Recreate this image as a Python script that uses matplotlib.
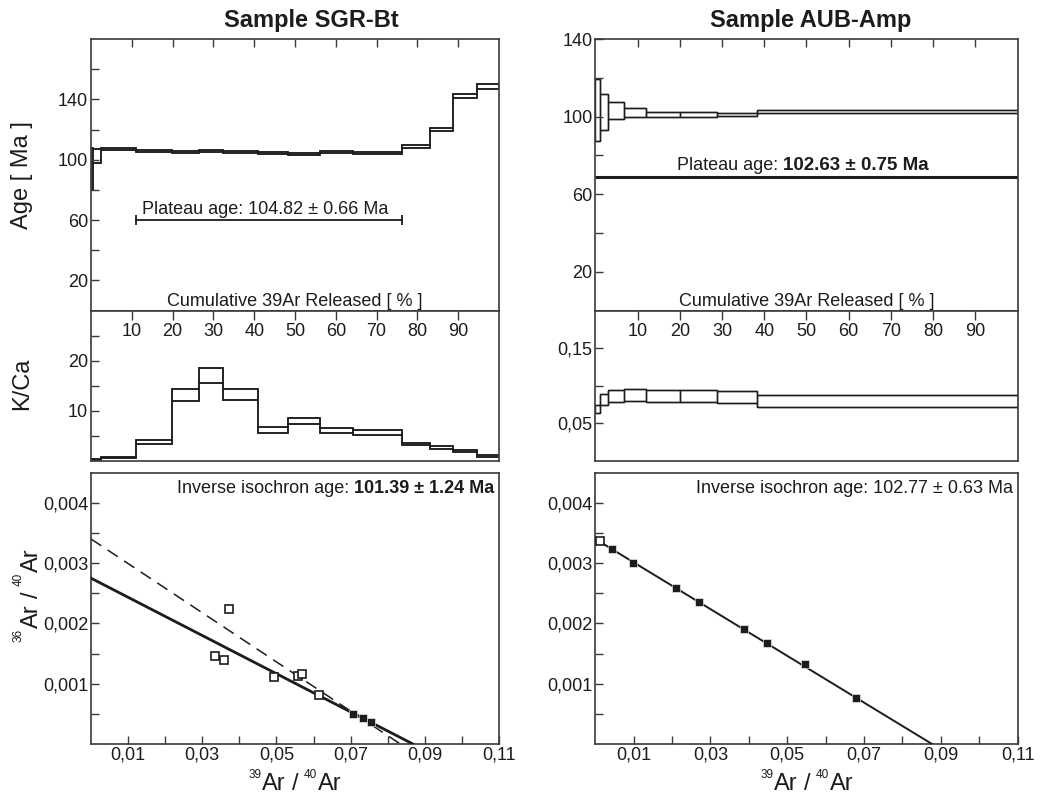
import matplotlib
matplotlib.use("Agg")
import matplotlib.pyplot as plt
import numpy as np
from matplotlib.ticker import FixedLocator, FixedFormatter

plt.rcParams['font.family'] = ['Liberation Sans', 'DejaVu Sans']

# ---------------- data ----------------
titles = ["Sample SGR-Bt", "Sample AUB-Amp"]

# SGR-Bt step heating (cumulative 39Ar % edges)
sgr_steps = [0, 0.4, 2.45, 11.0, 19.85, 26.4, 32.4, 41.0, 48.4, 56.1, 64.3, 76.1, 83.1, 88.8, 94.5, 100]
sgr_age_hi = [108.0, 107.4, 107.7, 106.2, 105.5, 106.4, 105.5, 104.8, 104.2, 105.9, 105.2, 109.6, 121.0, 143.8, 149.9]
sgr_age_lo = [80.0, 97.6, 106.3, 105.0, 104.3, 105.2, 104.3, 103.6, 103.0, 104.7, 104.0, 108.0, 119.0, 140.7, 146.6]
sgr_kca_hi = [0.3, 0.3, 0.8, 4.1, 14.4, 18.5, 14.4, 6.7, 8.5, 6.5, 6.1, 3.6, 2.9, 2.1, 1.1]
sgr_kca_lo = [0.0, 0.1, 0.5, 3.4, 11.9, 15.6, 12.1, 5.6, 7.4, 5.6, 5.2, 3.1, 2.4, 1.7, 0.8]
sgr_plateau = [11.0, 76.1, 60.0]          # start %, end %, drawn level
sgr_plateau_text = "Plateau age: 104.82 ± 0.66 Ma"

# AUB-Amp step heating
aub_steps = [0, 1.2, 3.0, 6.8, 12.0, 20.0, 28.9, 38.3, 100]
aub_age_hi = [119.4, 111.5, 107.3, 104.6, 102.6, 102.3, 102.1, 103.2]
aub_age_lo = [87.6, 93.1, 98.8, 99.6, 99.8, 99.6, 100.5, 102.0]
aub_kca_hi = [0.075, 0.0887, 0.0944, 0.0962, 0.0944, 0.0944, 0.0935, 0.0873]
aub_kca_lo = [0.0633, 0.0744, 0.078, 0.0797, 0.078, 0.078, 0.0775, 0.0722]
aub_plateau = [0, 100, 69.0]
aub_plateau_label = "Plateau age: "
aub_plateau_value = "102.63 ± 0.75 Ma"

# inverse isochrons
sgr_open_x = [0.0372, 0.0334, 0.0358, 0.0493, 0.0557, 0.0568, 0.0614]
sgr_open_y = [0.00224, 0.00146, 0.00140, 0.00111, 0.00112, 0.00116, 0.00081]
sgr_fill_x = [0.0707, 0.0732, 0.0754]
sgr_fill_y = [0.000503, 0.000426, 0.00037]
sgr_fit = [0.00275, 0.0868]     # y-intercept, x-intercept (solid)
sgr_alt = [0.0034, 0.0834]      # y-intercept, x-intercept (dashed)
sgr_iso_label = "Inverse isochron age: "
sgr_iso_value = "101.39 ± 1.24 Ma"

aub_open_x = [0.0013]
aub_open_y = [0.00337]
aub_fill_x = [0.0044, 0.0099, 0.0210, 0.0269, 0.0386, 0.0448, 0.0545, 0.0678]
aub_fill_y = [0.00323, 0.00301, 0.00258, 0.00235, 0.00191, 0.00168, 0.00132, 0.00076]
aub_fit = [0.0034, 0.0877, 0.002]   # y-intercept, x-intercept, start x
aub_iso_text = "Inverse isochron age: 102.77 ± 0.63 Ma"

# axis-label pieces (isotope mass numbers as superscripts)
iso_x_label = [("39", True), ("Ar", False), ("/", False), ("40", True), ("Ar", False)]
iso_y_label = [("36", True), ("Ar", False), ("/", False), ("40", True), ("Ar", False)]

# ticks
pct_ticks = [10, 20, 30, 40, 50, 60, 70, 80, 90]
pct_labels = ["10", "20", "30", "40", "50", "60", "70", "80", "90"]
sgr_age_ticks = [20, 40, 60, 80, 100, 120, 140, 160]
sgr_age_labels = ["20", "", "60", "", "100", "", "140", ""]
aub_age_ticks = [20, 40, 60, 80, 100, 120, 140]
aub_age_labels = ["20", "", "60", "", "100", "", "140"]
sgr_kca_ticks = [5, 10, 15, 20, 25]
sgr_kca_labels = ["", "10", "", "20", ""]
aub_kca_ticks = [0.05, 0.10, 0.15]
aub_kca_labels = ["0,05", "", "0,15"]
iso_x_ticks = [0.01, 0.02, 0.03, 0.04, 0.05, 0.06, 0.07, 0.08, 0.09, 0.10, 0.11]
iso_x_labels = ["0,01", "", "0,03", "", "0,05", "", "0,07", "", "0,09", "", "0,11"]
iso_y_ticks = [0.0005, 0.001, 0.0015, 0.002, 0.0025, 0.003, 0.0035, 0.004]
iso_y_labels = ["", "0,001", "", "0,002", "", "0,003", "", "0,004"]

# ---------------- style ----------------
INK = "#1c1c1c"
SPINE = "#3a3a3a"
FS = 13
LFS = 17
SUPFS = 8.5
GAP = 6.0       # px between words

fig = plt.figure(figsize=(10.51, 7.96), dpi=100)
W, H = 1051, 796

L, LW = 0.0866, 0.3882
R, RW = 0.5664, 0.4019
AGE_B, AGE_H = 0.6099, 0.3410
KCA_B, KCA_H = 0.4209, 0.1890
ISO_B, ISO_H = 0.0653, 0.3409


def style(ax):
    for s in ax.spines.values():
        s.set_color(SPINE)
        s.set_linewidth(1.2)
    ax.tick_params(direction='in', length=5.5, width=1.0, color=SPINE,
                   labelsize=FS, labelcolor=INK, pad=2)


def spectrum(ax, edges, lo, hi, lw=1.0):
    edges = np.asarray(edges, float)
    lo = np.asarray(lo, float)
    hi = np.asarray(hi, float)
    ax.bar(edges[:-1], hi - lo, width=np.diff(edges), bottom=lo, align='edge',
           fill=False, edgecolor=INK, linewidth=lw)
    ax.stairs(hi, edges, baseline=None, color=INK, linewidth=lw)
    ax.stairs(lo, edges, baseline=None, color=INK, linewidth=lw)


def yticks(ax, ticks, labels):
    ax.yaxis.set_major_locator(FixedLocator(ticks))
    ax.yaxis.set_major_formatter(FixedFormatter(labels))


def xticks(ax, ticks, labels):
    ax.xaxis.set_major_locator(FixedLocator(ticks))
    ax.xaxis.set_major_formatter(FixedFormatter(labels))


def compose(cx, cy, parts, rotation=0, rise_pt=8.4):
    """Write a label made of pieces; small raised pieces are superscripts.
    cx, cy: pixel position from top-left; horizontal: centre x & baseline y,
    vertical: baseline x & centre y."""
    r = fig.canvas.get_renderer()
    specs = []
    for i, (s, sup) in enumerate(parts):
        size = SUPFS if sup else LFS
        t = fig.text(0, 0, s, fontsize=size)
        w = t.get_window_extent(r).width
        t.remove()
        gap = 0.5 if sup else (0 if i + 1 == len(parts) else GAP)
        specs.append((s, size, rise_pt * fig.dpi / 72 if sup else 0.0, w, gap))
    total = sum(sp[3] + sp[4] for sp in specs)
    pos = -total / 2
    for s, size, rise, w, gap in specs:
        if rotation == 0:
            x, y = cx + pos, (H - cy) + rise
        else:
            x, y = cx - rise, (H - cy) + pos
        fig.text(x / W, y / H, s, fontsize=size, color=INK, rotation=rotation,
                 rotation_mode='anchor', ha='left', va='baseline')
        pos += w + gap


# ---------- age spectra ----------
ax1 = fig.add_axes([L, AGE_B, LW, AGE_H])
ax2 = fig.add_axes([R, AGE_B, RW, AGE_H])
for ax in (ax1, ax2):
    style(ax)
    ax.set_xlim(0, 100)
    xticks(ax, pct_ticks, [""] * len(pct_ticks))
    ax.tick_params(axis='x', top=True, bottom=False, labelbottom=False, labeltop=False)
    ax.text(50, 0.018, "Cumulative 39Ar Released [ % ]", transform=ax.get_xaxis_transform(),
            ha='center', va='baseline', fontsize=FS, color=INK)

ax1.set_ylim(0, 180)
yticks(ax1, sgr_age_ticks, sgr_age_labels)
spectrum(ax1, sgr_steps, sgr_age_lo, sgr_age_hi, lw=1.1)
ax1.plot([sgr_plateau[0], sgr_plateau[1]], [sgr_plateau[2], sgr_plateau[2]],
         color=INK, lw=1.3, marker='|', markersize=7, markeredgewidth=1.3)
ax1.text((sgr_plateau[0] + sgr_plateau[1]) / 2 - 0.8, 64, sgr_plateau_text,
         ha='center', va='baseline', fontsize=FS, color=INK)
ax1.set_ylabel("Age [ Ma ]", fontsize=LFS, color=INK)
ax1.yaxis.set_label_coords(-0.142, 0.5)

ax2.set_ylim(0, 140)
yticks(ax2, aub_age_ticks, aub_age_labels)
spectrum(ax2, aub_steps, aub_age_lo, aub_age_hi, lw=1.0)
ax2.plot([aub_plateau[0], aub_plateau[1]], [aub_plateau[2], aub_plateau[2]],
         color=INK, lw=2.2, solid_capstyle='butt')
t1 = ax2.text(19.4, 72.5, aub_plateau_label, ha='left', va='baseline',
              fontsize=FS, color=INK)
ax2.annotate(aub_plateau_value, xy=(1, 0), xycoords=t1, ha='left', va='bottom',
             fontsize=13.5, fontweight='bold', color=INK)

fig.text(311 / W, 1 - 27 / H, titles[0], ha='center', va='baseline',
         fontsize=LFS, fontweight='bold', color=INK)
fig.text(811 / W, 1 - 27 / H, titles[1], ha='center', va='baseline',
         fontsize=LFS, fontweight='bold', color=INK)

# ---------- K/Ca ----------
ax3 = fig.add_axes([L, KCA_B, LW, KCA_H])
ax4 = fig.add_axes([R, KCA_B, RW, KCA_H])
for ax in (ax3, ax4):
    style(ax)
    ax.set_xlim(0, 100)
    xticks(ax, pct_ticks, pct_labels)
    ax.tick_params(axis='x', top=True, bottom=False, labeltop=True, labelbottom=False,
                   pad=-21.5, length=6.5)

ax3.set_ylim(0, 30)
yticks(ax3, sgr_kca_ticks, sgr_kca_labels)
spectrum(ax3, sgr_steps, sgr_kca_lo, sgr_kca_hi, lw=1.1)
ax3.set_ylabel("K/Ca", fontsize=LFS, color=INK)
ax3.yaxis.set_label_coords(-0.142, 0.51)

ax4.set_ylim(0, 0.2)
yticks(ax4, aub_kca_ticks, aub_kca_labels)
spectrum(ax4, aub_steps, aub_kca_lo, aub_kca_hi, lw=1.0)

# ---------- inverse isochrons ----------
ax5 = fig.add_axes([L, ISO_B, LW, ISO_H])
ax6 = fig.add_axes([R, ISO_B, RW, ISO_H])
for ax in (ax5, ax6):
    style(ax)
    ax.set_xlim(0, 0.11)
    ax.set_ylim(0, 0.0045)
    xticks(ax, iso_x_ticks, iso_x_labels)
    yticks(ax, iso_y_ticks, iso_y_labels)

# SGR lines
xs = np.array([0.0, sgr_alt[1]])
ax5.plot(xs, sgr_alt[0] * (1 - xs / sgr_alt[1]), color=INK, lw=1.1,
         linestyle=(0, (8, 5)), zorder=2)
xs = np.array([0.0, sgr_fit[1]])
ax5.plot(xs, sgr_fit[0] * (1 - xs / sgr_fit[1]), color=INK, lw=2.0, zorder=3)
ax5.plot(sgr_open_x, sgr_open_y, linestyle='none', marker='s', markersize=6.3,
         markerfacecolor='white', markeredgecolor=INK, markeredgewidth=1.2, zorder=4)
ax5.plot(sgr_fill_x, sgr_fill_y, linestyle='none', marker='s', markersize=5.6,
         markerfacecolor=INK, markeredgecolor='white', markeredgewidth=0.4, zorder=4)
tb = ax5.text(0.988, 0.924, sgr_iso_value, transform=ax5.transAxes, ha='right',
              va='baseline', fontsize=FS, fontweight='bold', color=INK)
ax5.annotate(sgr_iso_label, xy=(0, 0), xycoords=tb, ha='right', va='bottom',
             fontsize=FS, color=INK)

# AUB line
xs = np.array([aub_fit[2], aub_fit[1]])
ax6.plot(xs, aub_fit[0] * (1 - xs / aub_fit[1]), color=INK, lw=1.4, zorder=3)
ax6.plot(aub_open_x, aub_open_y, linestyle='none', marker='s', markersize=6.3,
         markerfacecolor='white', markeredgecolor=INK, markeredgewidth=1.2, zorder=4)
ax6.plot(aub_fill_x, aub_fill_y, linestyle='none', marker='s', markersize=5.6,
         markerfacecolor=INK, markeredgecolor='white', markeredgewidth=0.4, zorder=4)
ax6.text(0.989, 0.924, aub_iso_text, transform=ax6.transAxes, ha='right',
         va='baseline', fontsize=FS, color=INK)

# isotope-ratio axis labels
compose(295, 790, iso_x_label, rise_pt=8.4)
compose(807, 790, iso_x_label, rise_pt=8.4)
compose(37.5, 595, iso_y_label, rotation=90, rise_pt=11.5)

fig.savefig("out.png", dpi=100, facecolor='white')
